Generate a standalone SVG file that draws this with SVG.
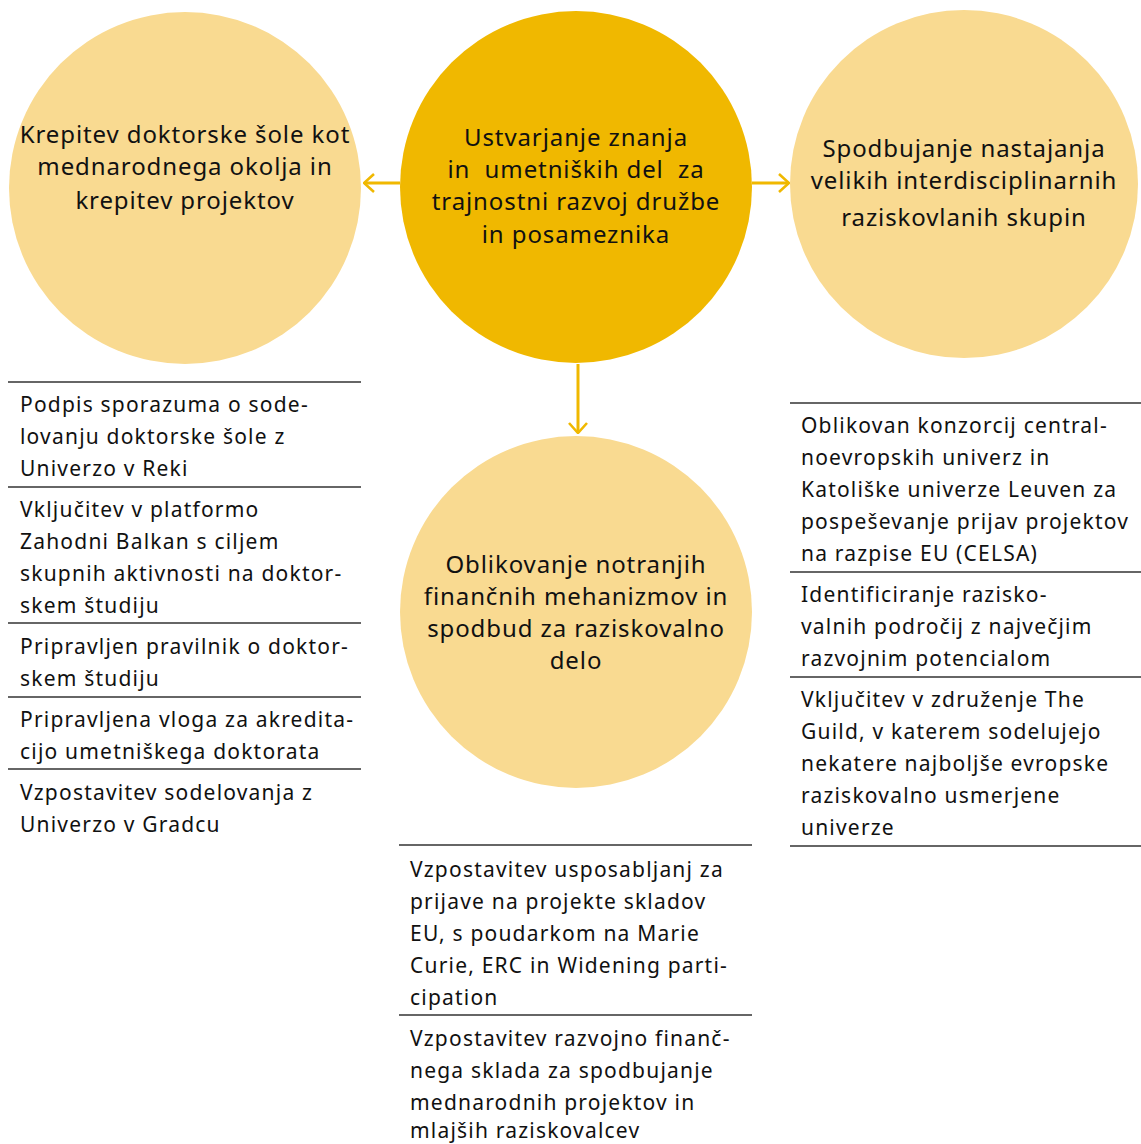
<svg xmlns="http://www.w3.org/2000/svg" width="1141" height="1144" viewBox="0 0 1141 1144">
<defs>
<style>
.light{fill:#F9DA91;}
.dark{fill:#F0B800;}
.ct{font-family:"Noto Sans","Open Sans",sans-serif;font-size:24px;letter-spacing:0.9px;fill:#111;text-anchor:middle;}
.lt{font-family:"Noto Sans","Open Sans",sans-serif;font-size:21px;letter-spacing:1.2px;fill:#111;}
.rule{stroke:#333;stroke-width:1.3;fill:none;}
.conn{stroke:#F0B800;stroke-width:3;fill:none;}
</style>
<marker id="arr" viewBox="0 0 12 20" refX="11" refY="10" markerWidth="12" markerHeight="20" markerUnits="userSpaceOnUse" orient="auto">
<path d="M1,1 L11,10 L1,19" fill="none" stroke="#F0B800" stroke-width="2.6"/>
</marker>
</defs>
<rect width="1141" height="1144" fill="#fff"/>

<g id="connectors">
<line class="conn" x1="400" y1="183" x2="364" y2="183" marker-end="url(#arr)"/>
<line class="conn" x1="752" y1="183" x2="789" y2="183" marker-end="url(#arr)"/>
<line class="conn" x1="578" y1="364" x2="578" y2="433" marker-end="url(#arr)"/>
</g>

<g id="node-left">
<circle class="light" cx="185" cy="188" r="176"/>
<text class="ct" x="185" y="143">Krepitev doktorske šole kot</text>
<text class="ct" x="185" y="175">mednarodnega okolja in</text>
<text class="ct" x="185" y="209">krepitev projektov</text>
</g>

<g id="node-center">
<circle class="dark" cx="576" cy="187" r="176"/>
<text class="ct" x="576" y="146">Ustvarjanje znanja</text>
<text class="ct" x="576" y="178" xml:space="preserve">in  umetniških del  za</text>
<text class="ct" x="576" y="210">trajnostni razvoj družbe</text>
<text class="ct" x="576" y="243">in posameznika</text>
</g>

<g id="node-right">
<circle class="light" cx="964" cy="184" r="174"/>
<text class="ct" x="964" y="157">Spodbujanje nastajanja</text>
<text class="ct" x="964" y="189">velikih interdisciplinarnih</text>
<text class="ct" x="964" y="226">raziskovlanih skupin</text>
</g>

<g id="node-bottom">
<circle class="light" cx="576" cy="612" r="176"/>
<text class="ct" x="576" y="573">Oblikovanje notranjih</text>
<text class="ct" x="576" y="605">finančnih mehanizmov in</text>
<text class="ct" x="576" y="637">spodbud za raziskovalno</text>
<text class="ct" x="576" y="669">delo</text>
</g>

<g id="list-left">
<line class="rule" x1="8" y1="382" x2="361" y2="382"/>
<text class="lt" x="20" y="412">Podpis sporazuma o sode-</text>
<text class="lt" x="20" y="444">lovanju doktorske šole z</text>
<text class="lt" x="20" y="476">Univerzo v Reki</text>
<line class="rule" x1="8" y1="487" x2="361" y2="487"/>
<text class="lt" x="20" y="517">Vključitev v platformo</text>
<text class="lt" x="20" y="549">Zahodni Balkan s ciljem</text>
<text class="lt" x="20" y="581">skupnih aktivnosti na doktor-</text>
<text class="lt" x="20" y="613">skem študiju</text>
<line class="rule" x1="8" y1="623" x2="361" y2="623"/>
<text class="lt" x="20" y="654">Pripravljen pravilnik o doktor-</text>
<text class="lt" x="20" y="686">skem študiju</text>
<line class="rule" x1="8" y1="697" x2="361" y2="697"/>
<text class="lt" x="20" y="727">Pripravljena vloga za akredita-</text>
<text class="lt" x="20" y="759">cijo umetniškega doktorata</text>
<line class="rule" x1="8" y1="769" x2="361" y2="769"/>
<text class="lt" x="20" y="800">Vzpostavitev sodelovanja z</text>
<text class="lt" x="20" y="832">Univerzo v Gradcu</text>
</g>

<g id="list-right">
<line class="rule" x1="790" y1="403" x2="1141" y2="403"/>
<text class="lt" x="801" y="433">Oblikovan konzorcij central-</text>
<text class="lt" x="801" y="465">noevropskih univerz in</text>
<text class="lt" x="801" y="497">Katoliške univerze Leuven za</text>
<text class="lt" x="801" y="529">pospeševanje prijav projektov</text>
<text class="lt" x="801" y="561">na razpise EU (CELSA)</text>
<line class="rule" x1="790" y1="572" x2="1141" y2="572"/>
<text class="lt" x="801" y="602">Identificiranje razisko-</text>
<text class="lt" x="801" y="634">valnih področij z največjim</text>
<text class="lt" x="801" y="666">razvojnim potencialom</text>
<line class="rule" x1="790" y1="677" x2="1141" y2="677"/>
<text class="lt" x="801" y="707">Vključitev v združenje The</text>
<text class="lt" x="801" y="739">Guild, v katerem sodelujejo</text>
<text class="lt" x="801" y="771">nekatere najboljše evropske</text>
<text class="lt" x="801" y="803">raziskovalno usmerjene</text>
<text class="lt" x="801" y="835">univerze</text>
<line class="rule" x1="790" y1="846" x2="1141" y2="846"/>
</g>

<g id="list-bottom">
<line class="rule" x1="399" y1="845" x2="752" y2="845"/>
<text class="lt" x="410" y="877">Vzpostavitev usposabljanj za</text>
<text class="lt" x="410" y="909">prijave na projekte skladov</text>
<text class="lt" x="410" y="941">EU, s poudarkom na Marie</text>
<text class="lt" x="410" y="973">Curie, ERC in Widening parti-</text>
<text class="lt" x="410" y="1005">cipation</text>
<line class="rule" x1="399" y1="1015" x2="752" y2="1015"/>
<text class="lt" x="410" y="1046">Vzpostavitev razvojno finanč-</text>
<text class="lt" x="410" y="1078">nega sklada za spodbujanje</text>
<text class="lt" x="410" y="1110">mednarodnih projektov in</text>
<text class="lt" x="410" y="1138">mlajših raziskovalcev</text>
</g>
</svg>
